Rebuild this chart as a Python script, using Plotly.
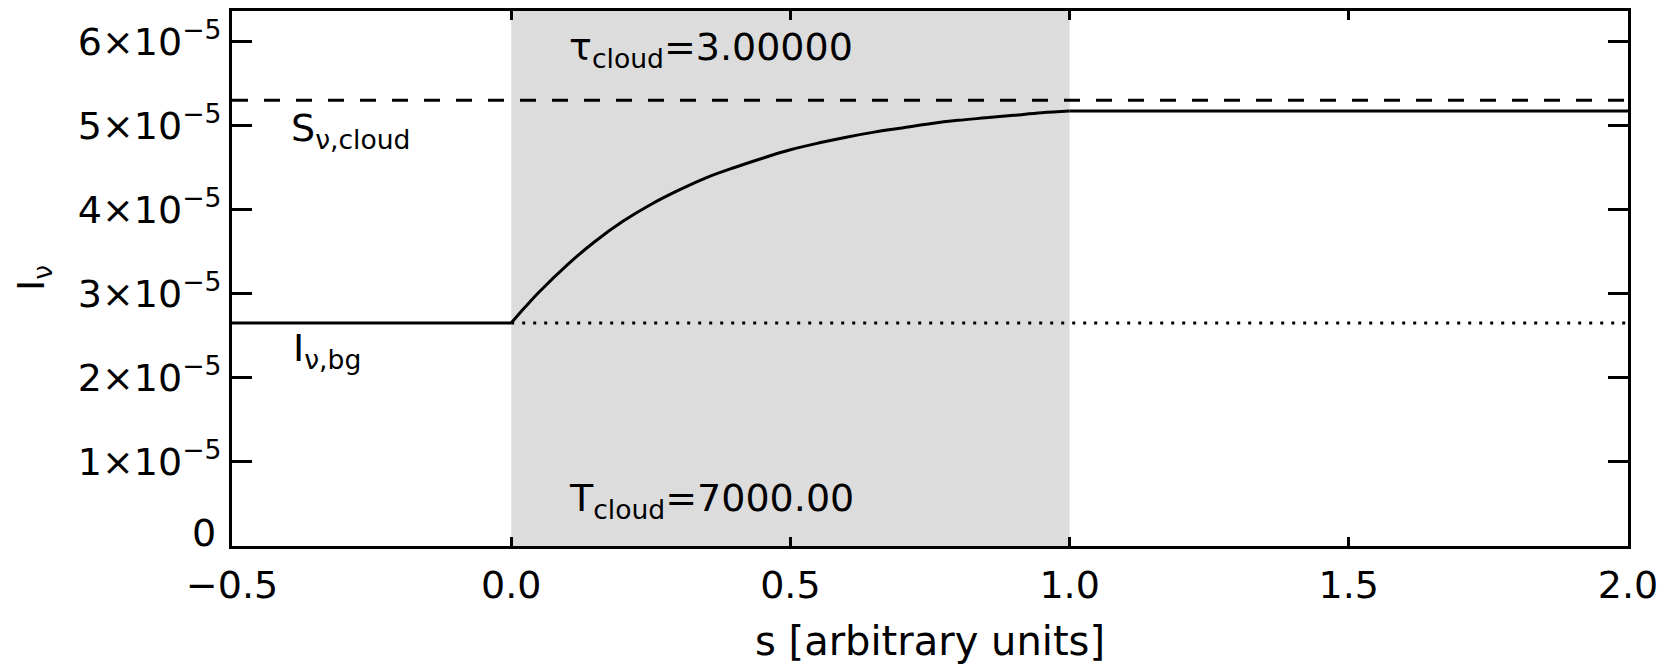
import plotly.graph_objects as go

# ---- data ----
s_before = [-0.5, 0.0]
I_before = [2.65e-5, 2.65e-5]

s_cloud = [0.00, 0.025, 0.05, 0.10, 0.15, 0.20, 0.25, 0.30, 0.35, 0.40, 0.45, 0.50,
           0.55, 0.60, 0.65, 0.70, 0.75, 0.80, 0.85, 0.90, 0.95, 1.00]
I_cloud = [2.65e-5, 2.84e-5, 3.02e-5, 3.34e-5, 3.62e-5, 3.86e-5, 4.06e-5, 4.23e-5, 4.38e-5,
           4.50e-5, 4.61e-5, 4.71e-5, 4.79e-5, 4.86e-5, 4.92e-5, 4.97e-5, 5.02e-5,
           5.06e-5, 5.09e-5, 5.12e-5, 5.15e-5, 5.17e-5]

s_after = [1.0, 2.0]
I_after = [5.17e-5, 5.17e-5]

S_cloud = 5.30e-5
I_bg = 2.65e-5
cloud_start, cloud_end = 0.0, 1.0

x_range = [-0.5, 2.0]
y_range = [0.0, 6.36e-5]

x_tickvals = [-0.5, 0.0, 0.5, 1.0, 1.5, 2.0]
x_ticktext = ["\u22120.5", "0.0", "0.5", "1.0", "1.5", "2.0"]
y_tickvals = [0, 1e-5, 2e-5, 3e-5, 4e-5, 5e-5, 6e-5]
y_ticktext = ["0"] + [f"{k}\u00d710<sup>\u22125</sup>" for k in range(1, 7)]

FONT = "DejaVu Sans"
FS = 38

fig = go.Figure()

# shaded cloud region
fig.add_shape(type="rect", xref="x", yref="y", x0=cloud_start, x1=cloud_end,
              y0=y_range[0], y1=y_range[1], fillcolor="#dcdcdc",
              line=dict(width=0), layer="below")

# source function (dashed) and background (dotted)
fig.add_trace(go.Scatter(x=x_range, y=[S_cloud, S_cloud], mode="lines",
                         line=dict(color="black", width=3, dash="16px,16px"),
                         showlegend=False, hoverinfo="skip"))
fig.add_trace(go.Scatter(x=[cloud_start, x_range[1]], y=[I_bg, I_bg], mode="lines",
                         line=dict(color="black", width=3, dash="3px,8px"),
                         showlegend=False, hoverinfo="skip"))

# intensity: before, inside (smooth) and after the cloud
for xs, ys, shape in [(s_before, I_before, "linear"),
                      (s_cloud, I_cloud, "spline"),
                      (s_after, I_after, "linear")]:
    fig.add_trace(go.Scatter(x=xs, y=ys, mode="lines",
                             line=dict(color="black", width=3, shape=shape,
                                       smoothing=1.0),
                             showlegend=False))

# page body has an 8px margin: shift figure so that the plot lands where it should
OFF = 8
W, H = 1666 - OFF, 667 - OFF
ml, mt = 232 - OFF, 11 - OFF
pw, ph = 1396, 535
mr, mb = W - ml - pw, H - mt - ph

def py(ypx):
    return 1 - (ypx - 11) / ph

def px(xpx):
    return (xpx - 232) / pw

font = dict(family=FONT, size=FS, color="black")

ann = []
ann.append(dict(text="\u03c4<sub>cloud</sub>=3.00000", x=0.1, xref="x",
                y=py(50), yref="paper", xanchor="left", yanchor="middle",
                showarrow=False, font=font))
ann.append(dict(text="T<sub>cloud</sub>=7000.00", x=0.1, xref="x",
                y=py(500), yref="paper", xanchor="left", yanchor="middle",
                showarrow=False, font=font))
ann.append(dict(text="S<sub>\u03bd,cloud</sub>", x=-0.398, xref="x",
                y=py(130), yref="paper", xanchor="left", yanchor="middle",
                showarrow=False, font=font))
ann.append(dict(text="I<sub>\u03bd,bg</sub>", x=-0.394, xref="x",
                y=py(350), yref="paper", xanchor="left", yanchor="middle",
                showarrow=False, font=font))
# the "0" label sits a little above its tick in the reference
ann.append(dict(text=y_ticktext[0], x=px(218), xref="paper",
                y=y_tickvals[0], yref="y", yshift=13, xanchor="right", yanchor="middle",
                showarrow=False, font=font))
# axis titles
ann.append(dict(text="s [arbitrary units]", x=0.5, xref="paper",
                y=py(641), yref="paper", xanchor="center", yanchor="middle",
                showarrow=False, font=dict(family=FONT, size=40, color="black")))
ann.append(dict(text="I<sub>\u03bd</sub>", x=px(33), xref="paper",
                y=py(278), yref="paper", xanchor="center", yanchor="middle",
                textangle=-90, showarrow=False, font=font))

fig.update_layout(
    width=W, height=H,
    margin=dict(l=ml, r=mr, t=mt, b=mb, pad=0, autoexpand=False),
    paper_bgcolor="white", plot_bgcolor="white",
    font=font,
    annotations=ann,
    xaxis=dict(range=x_range, tickvals=x_tickvals, ticktext=x_ticktext,
               ticks="inside", ticklen=9, tickwidth=3, tickcolor="black",
               showline=True, linecolor="black", linewidth=3, mirror="ticks",
               showgrid=False, zeroline=False, ticklabelstandoff=3,
               tickfont=font),
    yaxis=dict(range=y_range, tickvals=y_tickvals, ticktext=[""] + y_ticktext[1:],
               ticks="inside", ticklen=20, tickwidth=3, tickcolor="black",
               showline=True, linecolor="black", linewidth=3, mirror="ticks",
               showgrid=False, zeroline=False, ticklabelstandoff=0,
               tickfont=font),
)

fig.write_html("out.html")
